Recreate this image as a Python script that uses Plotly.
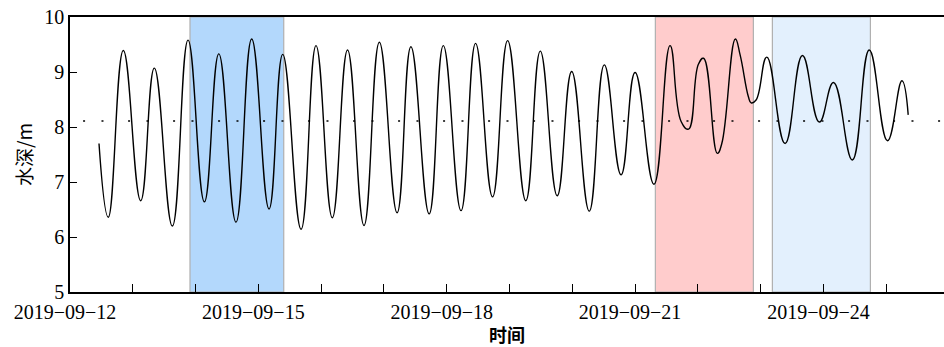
import plotly.graph_objects as go

# High / low water turning points of the tide record (time, depth in m)
tide_times = [
    "2019-09-12 11:05", "2019-09-12 14:38", "2019-09-12 20:23", "2019-09-13 03:01",
    "2019-09-13 08:14", "2019-09-13 15:07", "2019-09-13 21:07", "2019-09-14 03:22",
    "2019-09-14 08:53", "2019-09-14 15:27", "2019-09-14 21:27", "2019-09-15 04:05",
    "2019-09-15 09:19", "2019-09-15 16:19", "2019-09-15 22:02", "2019-09-16 04:16",
    "2019-09-16 10:05", "2019-09-16 16:23", "2019-09-16 22:15", "2019-09-17 05:02",
    "2019-09-17 10:19", "2019-09-17 17:17", "2019-09-17 22:42", "2019-09-18 05:28",
    "2019-09-18 11:02", "2019-09-18 17:31", "2019-09-18 23:17", "2019-09-19 06:14",
    "2019-09-19 11:46", "2019-09-19 18:14", "2019-09-19 23:46", "2019-09-20 06:29",
    "2019-09-20 12:14", "2019-09-20 18:39", "2019-09-21 00:00", "2019-09-21 07:12",
    "2019-09-21 13:22", "2019-09-21 17:36", "2019-09-21 20:24", "2019-09-22 00:12",
    "2019-09-22 02:10", "2019-09-22 07:26", "2019-09-22 09:09", "2019-09-22 14:20",
    "2019-09-22 16:09", "2019-09-22 19:19", "2019-09-22 20:21", "2019-09-22 22:15",
    "2019-09-23 02:21", "2019-09-23 09:20", "2019-09-23 15:58", "2019-09-23 22:26",
    "2019-09-24 03:50", "2019-09-24 11:02", "2019-09-24 17:31", "2019-09-25 00:29",
    "2019-09-25 06:00", "2019-09-25 08:24",
]
tide_levels = [
    7.70, 6.36, 9.39, 6.66,
    9.07, 6.20, 9.58, 6.64,
    9.33, 6.27, 9.60, 6.51,
    9.32, 6.14, 9.48, 6.35,
    9.40, 6.21, 9.54, 6.44,
    9.46, 6.42, 9.48, 6.48,
    9.52, 6.73, 9.57, 6.66,
    9.38, 6.75, 9.01, 6.47,
    9.13, 7.13, 8.99, 6.96,
    9.48, 8.10, 7.96, 9.14,
    9.25, 7.52, 7.70, 9.60,
    9.31, 8.55, 8.44, 8.49,
    9.27, 7.70, 9.30, 8.09,
    8.81, 7.40, 9.40, 7.75,
    8.84, 8.22,
]

# Mean water depth
mean_level = 8.11
mean_start = "2019-09-12 05:00"

# Highlighted periods
period_starts = ["2019-09-13 21:52", "2019-09-21 07:45", "2019-09-23 04:29"]
period_ends = ["2019-09-15 09:42", "2019-09-22 21:13", "2019-09-24 17:57"]
period_colors = ["#b3d8fc", "#ffcccc", "#e3f0fd"]

# Daily ticks, labelled every third day
tick_days = [f"2019-09-{d:02d}" for d in range(12, 26)]
tick_labels = ["2019\u221209\u221212", "", "", "2019\u221209\u221215", "", "",
               "2019\u221209\u221218", "", "", "2019\u221209\u221221", "", "",
               "2019\u221209\u221224", ""]

x_range = ["2019-09-12 00:00", "2019-09-25 22:05"]
y_range = [5, 10]

serif = "Liberation Serif, Times New Roman, serif"
cjk = "Noto Sans CJK SC, sans-serif"

fig = go.Figure()

fig.add_trace(go.Scatter(
    x=[mean_start, x_range[1]], y=[mean_level, mean_level],
    mode="lines",
    line=dict(color="black", width=1.6, dash="2px,16.4px,2px,24.6px"),
    hoverinfo="skip", showlegend=False,
))

fig.add_trace(go.Scatter(
    x=tide_times, y=tide_levels,
    mode="lines",
    line=dict(color="black", width=1.4, shape="spline", smoothing=1.3),
    showlegend=False,
))

for s, e, c in zip(period_starts, period_ends, period_colors):
    fig.add_shape(
        type="rect", xref="x", yref="paper", x0=s, x1=e, y0=0, y1=1,
        fillcolor=c, line=dict(color="#b0b0b0", width=1.2), layer="below",
    )

fig.update_layout(
    width=944, height=347,
    margin=dict(l=70, r=0, t=17, b=55),
    paper_bgcolor="white", plot_bgcolor="white",
    font=dict(family=serif, size=20, color="black"),
    showlegend=False,
)

fig.update_xaxes(
    range=x_range, type="date",
    tickmode="array", tickvals=tick_days, ticktext=tick_labels,
    ticks="inside", ticklen=8, tickwidth=1.3, tickcolor="black",
    ticklabelshift=-5, ticklabelstandoff=1,
    showline=True, linecolor="black", linewidth=1.5, mirror=True,
    showgrid=False, zeroline=False,
    tickfont=dict(family=serif, size=20),
    title=dict(text="<b>时间</b>", font=dict(family=cjk, size=18), standoff=1),
)

fig.update_yaxes(
    range=y_range, tickmode="array", tickvals=[5, 6, 7, 8, 9, 10],
    ticks="inside", ticklen=7, tickwidth=1.3, tickcolor="black",
    showline=True, linecolor="black", linewidth=1.5,
    showgrid=False, zeroline=False,
    tickfont=dict(family=serif, size=20),
    title=dict(text="水深/m", font=dict(family=cjk, size=19), standoff=7),
)

fig.write_html("out.html")
